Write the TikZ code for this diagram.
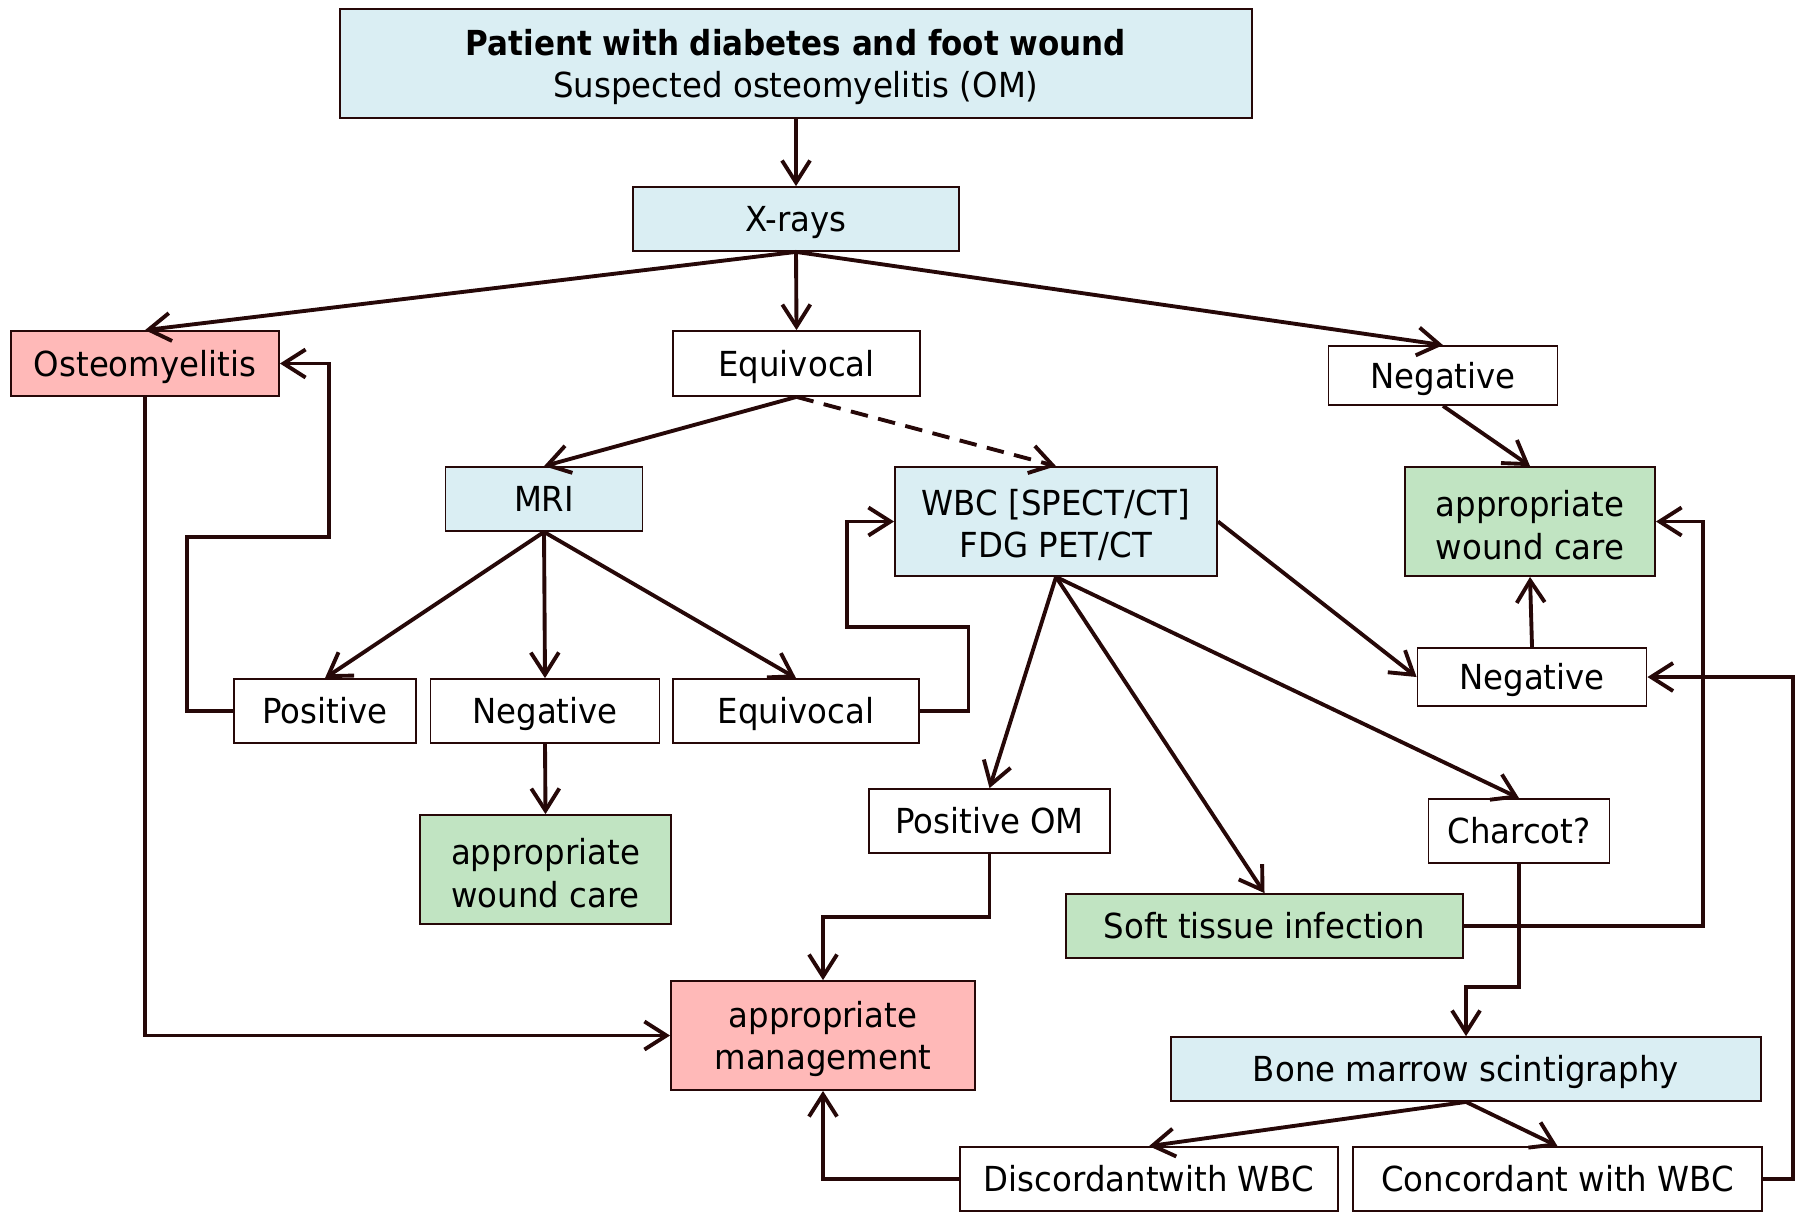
\documentclass[tikz,border=0pt]{standalone}
\usepackage{fontspec}
\setmainfont[FakeStretch=0.94]{DejaVu Sans}
\newfontfamily\titlefont[FakeStretch=0.9]{DejaVu Sans}
\usetikzlibrary{arrows.meta}

\definecolor{boxblue}{RGB}{218,238,243}
\definecolor{boxpink}{RGB}{255,185,184}
\definecolor{boxgreen}{RGB}{193,228,194}
\definecolor{linebrown}{RGB}{38,8,8}
\newcommand{\upstrut}{\rule{0pt}{0.97em}}

\begin{document}
\begin{tikzpicture}
[x=0.01cm,y=-0.01cm,
  font=\fontsize{9.8}{12.1}\selectfont,
  nodeBox/.style={shape=rectangle,draw=linebrown,line width=0.5pt,inner sep=0pt,align=center,minimum height=0.64cm},%
  oneLine/.style={text height=0.73em,text depth=0pt},%
  nodeWhite/.style={nodeBox,oneLine,fill=white},%
  nodeBlue/.style={nodeBox,fill=boxblue},%
  nodePink/.style={nodeBox,fill=boxpink},%
  nodeGreen/.style={nodeBox,fill=boxgreen},%
  linedecorate/.style={-{Straight Barb[length=2.2mm,width=2.8mm]},line width=1.1pt,draw=linebrown},%
  linedashed/.style={linedecorate,dashed,dash pattern=on 5pt off 3pt}]
\useasboundingbox (0,0) rectangle (1795,1211);
\clip (0,0) rectangle (1795,1211);
%% coloured boxes
\node (top) at (796,63.5) [nodeBlue,minimum width=9.12cm,minimum height=1.09cm]
  {\upstrut{\titlefont\bfseries Patient with diabetes and foot wound}\\Suspected osteomyelitis (OM)};
\node (xrays) at (796,219) [nodeBlue,oneLine,minimum width=3.26cm] {X-rays};
\node (mri) at (544,499) [nodeBlue,oneLine,minimum width=1.97cm] {MRI};
\node (wbc) at (1056,521.5) [nodeBlue,minimum width=3.22cm,minimum height=1.09cm]
  {\upstrut WBC [SPECT/CT]\\FDG PET/CT};
\node (bms) at (1466,1069) [nodeBlue,oneLine,minimum width=5.9cm] {Bone marrow scintigraphy};
\node (osteo) at (145,363.5) [nodePink,oneLine,minimum width=2.68cm,minimum height=0.65cm] {Osteomyelitis};
\node (manage) at (823,1035.5) [nodePink,minimum width=3.04cm,minimum height=1.09cm]
  {\upstrut appropriate\\management};
\node (care1) at (1530,521.5) [nodeGreen,minimum width=2.5cm,minimum height=1.09cm]
  {\upstrut appropriate\\wound care};
\node (care2) at (545.5,869.5) [nodeGreen,minimum width=2.51cm,minimum height=1.09cm]
  {\upstrut appropriate\\wound care};
\node (soft) at (1264.5,926) [nodeGreen,oneLine,minimum width=3.97cm] {Soft tissue infection};
%% white boxes
\foreach \nodename/\x/\y/\w/\h/\txt in {equiv1/796.5/363.5/2.47/0.65/Equivocal,
  neg1/1443/375.5/2.29/0.59/Negative, pos/325/711/1.82/0.64/Positive,
  neg2/545/711/2.29/0.64/Negative, equiv2/796/711/2.46/0.64/Equivocal,
  neg3/1532/677/2.29/0.58/Negative, posom/989.5/821/2.41/0.64/Positive OM,
  charcot/1519/831/1.81/0.64/Charcot?, disc/1149/1179/3.78/0.64/Discordantwith WBC,
  conc/1557.5/1179/4.09/0.64/Concordant with WBC}
{
  \node (\nodename) at (\x,\y) [nodeWhite,minimum width=\w cm,minimum height=\h cm] {\txt};
}
%% straight arrows
\path
\foreach \startnode/\endnode in {top/xrays, xrays/osteo, xrays/equiv1, xrays/neg1,
  equiv1/mri, neg1/care1, mri/pos, mri/neg2, mri/equiv2, neg2/care2,
  wbc/posom, wbc/soft, wbc/charcot, bms/disc, bms/conc}
{
  (\startnode.south) edge[linedecorate] (\endnode.north)
};
\draw[linedashed] (equiv1.south) -- (wbc.north);
\draw[linedecorate] (wbc.east) -- (neg3.west);
\draw[linedecorate] (neg3.north) -- (care1.south);
%% elbow arrows
\draw[linedecorate] (pos.west) -| (186.6,537) -| (329,363.5) -- (osteo.east);
\draw[linedecorate] (equiv2.east) -| (968.5,627) -| (847,521.5) -- (wbc.west);
\draw[linedecorate] (osteo.south) |- (manage.west);
\draw[linedecorate] (posom.south) -- (989.5,917) -| (manage.north);
\draw[linedecorate] (disc.west) -| (manage.south);
\draw[linedecorate] (charcot.south) -- (1519,987) -| (bms.north);
\draw[linedecorate] (soft.east) -- (1703,926) |- (care1.east);
\draw[linedecorate] (conc.east) -- (1793,1179) |- (neg3.east);
\end{tikzpicture}
\end{document}
